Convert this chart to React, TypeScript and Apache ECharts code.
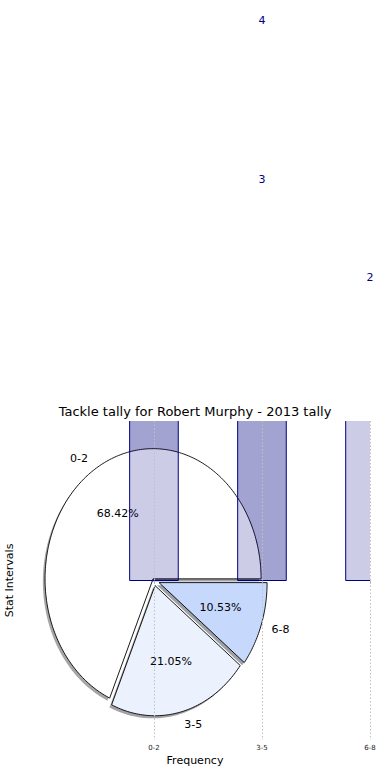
import React, { useEffect, useRef } from "react";
import * as echarts from "echarts";

const intervals = ["0-2", "3-5", "6-8"];
const intervalX = [0, 1, 2];
const tallies = [13, 4, 2];
const underlayTallies = [13, 3];
const explode = [0.015, 0.04, 0.05];
const wedgeColors = ["#ffffff", "#ebf1fd", "#c6d9fd"];
const barLabelText = ["4", "3", "2"];
const barLabelX = [1, 1, 2];
const barLabelY = [4.3, 3.08, 2.33];
const titleText = "Tackle tally for Robert Murphy - 2013 tally";
const xName = "Frequency";
const yName = "Stat Intervals";

const FONT = "'DejaVu Sans', Verdana, sans-serif";
const BAR_WIDTH = 0.45;
const total = tallies.reduce((a, b) => a + b, 0);
const startDeg: number[] = [];
(() => {
  let acc = 0;
  for (const v of tallies) {
    startDeg.push(acc);
    acc += (v / total) * 360;
  }
})();

function wedgeGeom(i: number) {
  const a1 = startDeg[i];
  const a2 = a1 + (tallies[i] / total) * 360;
  const mid = (((a1 + a2) / 2) * Math.PI) / 180;
  return { a1, a2, mid, ox: explode[i] * Math.cos(mid), oy: explode[i] * Math.sin(mid) };
}

function wedgePoints(api: any, i: number, dx: number, dy: number) {
  const g = wedgeGeom(i);
  const cx = g.ox + dx;
  const cy = g.oy + dy;
  const pts: number[][] = [api.coord([cx, cy])];
  const steps = Math.max(4, Math.ceil(g.a2 - g.a1));
  for (let k = 0; k <= steps; k++) {
    const a = ((g.a1 + ((g.a2 - g.a1) * k) / steps) * Math.PI) / 180;
    pts.push(api.coord([cx + Math.cos(a), cy + Math.sin(a)]));
  }
  return pts;
}

function shadowColor(hex: string) {
  const r = parseInt(hex.slice(1, 3), 16);
  const g = parseInt(hex.slice(3, 5), 16);
  const b = parseInt(hex.slice(5, 7), 16);
  return `rgba(${Math.round(r * 0.3)},${Math.round(g * 0.3)},${Math.round(b * 0.3)},0.5)`;
}

function barRender(withBorder: boolean) {
  return (params: any, api: any) => {
    const x = api.value(0);
    const v = api.value(1);
    const p0 = api.coord([x - BAR_WIDTH / 2, 0]);
    const p1 = api.coord([x + BAR_WIDTH / 2, v]);
    const cs = params.coordSys;
    return {
      type: "rect",
      shape: { x: p0[0], y: p1[1], width: p1[0] - p0[0], height: p0[1] - p1[1] },
      style: withBorder
        ? { fill: "rgba(0,0,128,0.2)", stroke: "#000080", lineWidth: 1 }
        : { fill: "rgba(0,0,128,0.2)", stroke: "none" },
      clipPath: { type: "rect", shape: { x: cs.x, y: cs.y, width: cs.width, height: cs.height } },
    };
  };
}

export default function App() {
  const ref = useRef<HTMLDivElement>(null);
  useEffect(() => {
    if (!ref.current) return;
    const chart = echarts.init(ref.current, null, { renderer: "svg" });
    const option: any = {
      animation: false,
      backgroundColor: "#ffffff",
      textStyle: { fontFamily: FONT },
      title: {
        text: titleText,
        left: "center",
        top: 405,
        padding: 0,
        textStyle: { fontFamily: FONT, fontSize: 13, fontWeight: "normal", color: "#000" },
      },
      grid: { left: 20, right: 20, top: 421, bottom: 40, containLabel: false, outerBoundsMode: "none" },
      xAxis: {
        type: "value",
        min: -1.24,
        max: 2,
        z: 6,
        axisLine: { show: false },
        axisTick: { show: true, customValues: intervalX, length: 3, lineStyle: { color: "#b0b0b0" } },
        axisLabel: {
          customValues: intervalX,
          formatter: (v: number) => intervals[intervalX.indexOf(Math.round(v))] ?? "",
          fontSize: 7,
          color: "#222",
          margin: 4,
          fontFamily: FONT,
        },
        splitLine: { show: true, lineStyle: { type: [1.5, 2], color: "#c0c0c0", width: 1 } },
        name: xName,
        nameLocation: "middle",
        nameGap: 15,
        nameTextStyle: { fontFamily: FONT, fontSize: 11, color: "#000" },
      },
      yAxis: {
        type: "value",
        min: -1.225,
        max: 1.225,
        axisLine: { show: false },
        axisTick: { show: false },
        axisLabel: { show: false },
        splitLine: { show: false },
        name: yName,
        nameLocation: "middle",
        nameGap: 5,
        nameTextStyle: { fontFamily: FONT, fontSize: 11, color: "#000" },
      },
      series: [
        {
          type: "custom",
          name: "shadow",
          z: 1,
          silent: true,
          data: tallies.map((v) => [0, 0, v]),
          renderItem: (params: any, api: any) => {
            const i = params.dataIndex;
            return {
              type: "polygon",
              shape: { points: wedgePoints(api, i, -0.02, -0.02) },
              style: { fill: shadowColor(wedgeColors[i]), stroke: "none" },
            };
          },
        },
        {
          type: "custom",
          name: "underlay",
          z: 2,
          data: underlayTallies.map((v, i) => [intervalX[i], v]),
          renderItem: barRender(false),
        },
        {
          type: "custom",
          name: "pie",
          z: 3,
          data: tallies.map((v) => [0, 0, v]),
          renderItem: (params: any, api: any) => {
            const i = params.dataIndex;
            const g = wedgeGeom(i);
            const lx = g.ox + 1.1 * Math.cos(g.mid);
            const ly = g.oy + 1.1 * Math.sin(g.mid);
            const px = g.ox + 0.6 * Math.cos(g.mid);
            const py = g.oy + 0.6 * Math.sin(g.mid);
            const lp = api.coord([lx, ly]);
            const pp = api.coord([px, py]);
            return {
              type: "group",
              children: [
                {
                  type: "polygon",
                  shape: { points: wedgePoints(api, i, 0, 0) },
                  style: { fill: wedgeColors[i], stroke: "#000", lineWidth: 0.9 },
                },
                {
                  type: "text",
                  x: lp[0],
                  y: lp[1],
                  style: {
                    text: intervals[i],
                    fill: "#000",
                    fontSize: 11,
                    fontFamily: FONT,
                    align: lx > 0 ? "left" : "right",
                    verticalAlign: "middle",
                  },
                },
                {
                  type: "text",
                  x: pp[0],
                  y: pp[1],
                  style: {
                    text: ((tallies[i] / total) * 100).toFixed(2) + "%",
                    fill: "#000",
                    fontSize: 11,
                    fontFamily: FONT,
                    align: "center",
                    verticalAlign: "middle",
                  },
                },
              ],
            };
          },
        },
        {
          type: "custom",
          name: "tallies",
          z: 4,
          data: tallies.map((v, i) => [intervalX[i], v]),
          renderItem: barRender(true),
        },
        {
          type: "custom",
          name: "labels",
          z: 5,
          clip: false,
          data: barLabelText.map((t, i) => [barLabelX[i], barLabelY[i]]),
          renderItem: (params: any, api: any) => {
            const i = params.dataIndex;
            const p = api.coord([barLabelX[i], barLabelY[i]]);
            return {
              type: "text",
              x: p[0],
              y: p[1],
              style: {
                text: barLabelText[i],
                fill: "#000080",
                fontSize: 11,
                fontFamily: FONT,
                align: "center",
                verticalAlign: "middle",
              },
            };
          },
        },
      ],
    };
    chart.setOption(option);
    return () => chart.dispose();
  }, []);
  return (
    <div
      ref={ref}
      style={{ position: "fixed", left: 0, top: 0, width: 390, height: 780, background: "#fff" }}
    />
  );
}
